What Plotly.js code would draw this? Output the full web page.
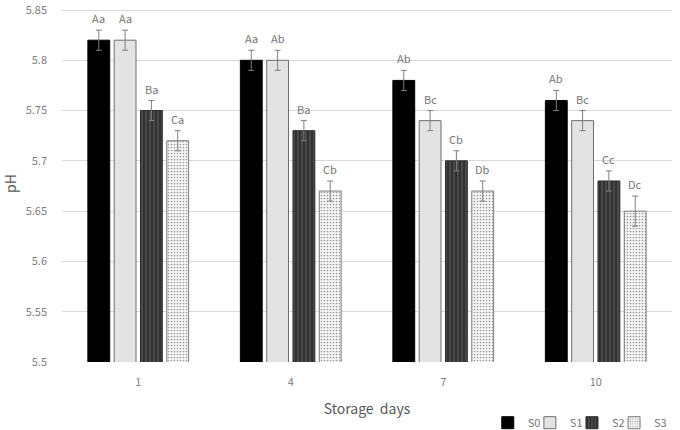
<!DOCTYPE html>
<html><head><meta charset="utf-8">
<script src="https://cdn.plot.ly/plotly-3.0.1.min.js"></script>
<style>body{margin:0;background:#fff}#c{width:680px;height:430px}</style>
</head><body><div id="c"></div>
<script>
const days = ["1","4","7","10"];
const seriesNames = ["S0","S1","S2","S3"];
const S0 = [5.82, 5.80, 5.78, 5.76];
const S1 = [5.82, 5.80, 5.74, 5.74];
const S2 = [5.75, 5.73, 5.70, 5.68];
const S3 = [5.72, 5.67, 5.67, 5.65];
const err0 = [0.01, 0.01, 0.01, 0.01];
const err1 = [0.01, 0.01, 0.01, 0.01];
const err2 = [0.01, 0.01, 0.01, 0.01];
const err3 = [0.01, 0.01, 0.01, 0.015];
const lab0 = ["Aa","Aa","Ab","Ab"];
const lab1 = ["Aa","Ab","Bc","Bc"];
const lab2 = ["Ba","Ba","Cb","Cc"];
const lab3 = ["Ca","Cb","Db","Dc"];
const yTicks = [5.5, 5.55, 5.6, 5.65, 5.7, 5.75, 5.8, 5.85];
const yTickText = ["5.5","5.55","5.6","5.65","5.7","5.75","5.8","5.85"];

const vals = [S0,S1,S2,S3];
const errs = [err0,err1,err2,err3];
const labs = [lab0,lab1,lab2,lab3];
const legendIds = ["legend","legend2","legend3","legend4"];
const styles = [
  {color:"#000000", line:{color:"#000000",width:1}},
  {color:"#e3e3e3", line:{color:"#6e6e6e",width:1}},
  {color:"#3c3c3c", line:{color:"#2a2a2a",width:1}, pattern:{shape:"|", fgcolor:"#2a2a2a", bgcolor:"#4a4a4a", size:4, solidity:0.4}},
  {color:"#f2f2f2", line:{color:"#7a7a7a",width:1}, pattern:{shape:".", fgcolor:"#9a9a9a", bgcolor:"#f7f7f7", size:3, solidity:0.25}}
];
const font = "'Noto Sans CJK KR', 'Open Sans', sans-serif";
const traces = seriesNames.map((n,i)=>({
  type:"bar", name:n, x:days, y:vals[i], base:0, legend:legendIds[i],
  marker:styles[i],
  error_y:{type:"data", array:errs[i], visible:true, color:"#7f7f7f", thickness:1, width:3},
  hoverinfo:"skip"
}));

const annotations = [];
const nS = 4, groupW = 0.69, slot = groupW/nS;
seriesNames.forEach((n,i)=>{
  days.forEach((d,j)=>{
    annotations.push({
      xref:"x", yref:"y", x:j - groupW/2 + slot*(i+0.5), y:vals[i][j]+errs[i][j],
      text:labs[i][j], showarrow:false, yanchor:"bottom", yshift:2,
      font:{family:font, size:11, color:"#767676"}
    });
  });
});

const layout = {
  width:680, height:430,
  margin:{l:62, r:8, t:5, b:68, autoexpand:false},
  paper_bgcolor:"#ffffff", plot_bgcolor:"#ffffff",
  font:{family:font, color:"#595959", size:11},
  barmode:"group", bargap:0.31, bargroupgap:0.17,
  showlegend:true,
  xaxis:{type:"category", range:[-0.5,3.5], autorange:false, showgrid:false, showline:false, ticks:"", zeroline:false,
         ticklabelstandoff:12,
         tickfont:{family:font, size:11, color:"#808080"},
         title:{text:"Storage  days", font:{family:font, size:14, color:"#595959"}, standoff:16}},
  yaxis:{range:[5.5,5.855], autorange:false, tickvals:yTicks, ticktext:yTickText, showgrid:true, gridcolor:"#d9d9d9", gridwidth:1,
         zeroline:false, showline:false, ticks:"", ticklabelstandoff:14, ticklabeloverflow:"allow",
         tickfont:{family:font, size:11, color:"#808080"},
         title:{text:"pH", font:{family:font, size:14, color:"#595959"}, standoff:16}},
  annotations:annotations
};
const legX = [0.698, 0.767, 0.836, 0.905];
legendIds.forEach((id,i)=>{
  layout[id] = {orientation:"h", x:legX[i], xanchor:"left", y:-0.17, yanchor:"middle",
    font:{family:font, size:11, color:"#767676"}, itemwidth:30, bgcolor:"rgba(0,0,0,0)"};
});
Plotly.newPlot("c", traces, layout, {displayModeBar:false, staticPlot:true});
</script></body></html>
